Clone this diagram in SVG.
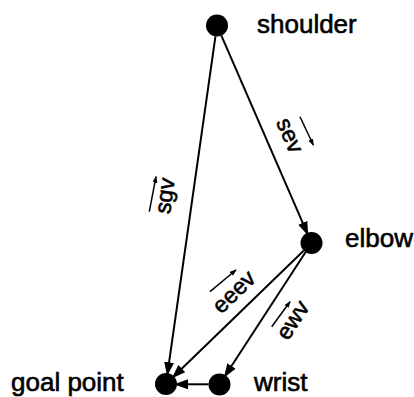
<svg xmlns="http://www.w3.org/2000/svg" width="414" height="397" viewBox="0 0 414 397">
<style>
.bg{fill:#fff}
.edge{stroke:#000;stroke-width:2;fill:none;marker-end:url(#ah)}
.vec{stroke:#000;stroke-width:1.5;fill:none;marker-end:url(#sah)}
.node{fill:#000}
.lbl{font-family:"Liberation Sans",Arial,Helvetica,sans-serif;font-size:26px;fill:#000;stroke:#000;stroke-width:0.6}
.elbl{font-family:"Liberation Sans",Arial,Helvetica,sans-serif;font-size:23px;fill:#000;stroke:#000;stroke-width:0.6;text-anchor:middle}
</style>
<defs>
<marker id="ah" markerUnits="userSpaceOnUse" markerWidth="15" markerHeight="11" refX="11" refY="5" orient="auto">
<path d="M0,0 L14,5 L0,10 z" fill="#000"/>
</marker>
<marker id="sah" markerUnits="userSpaceOnUse" markerWidth="8" markerHeight="6" refX="6" refY="2.5" orient="auto">
<path d="M0,0 L7,2.5 L0,5 z" fill="#000"/>
</marker>
</defs>
<rect class="bg" x="0" y="0" width="414" height="397"/>
<g id="connectors">
<line id="e-s-e" class="edge" x1="221.4" y1="35.6" x2="307.1" y2="232.9"/>
<line id="e-s-g" class="edge" x1="215.45" y1="36.4" x2="167.55" y2="373.1"/>
<line id="e-e-g" class="edge" x1="303.6" y1="250.7" x2="173.9" y2="376.3"/>
<line id="e-e-w" class="edge" x1="305.5" y1="252.2" x2="225.5" y2="375.3"/>
<line id="e-w-g" class="edge" x1="208.5" y1="384.3" x2="177" y2="384.3"/>
</g>
<g id="edge-labels">
<g id="lbl-sev">
<text class="elbl" transform="translate(288.5,136) rotate(66.5)" x="0" y="6">sev</text>
<line class="vec" x1="300" y1="116.7" x2="313.3" y2="145"/>
</g>
<g id="lbl-sgv">
<text class="elbl" transform="translate(166.5,196) rotate(-82)" x="0" y="6">sgv</text>
<line class="vec" x1="149.3" y1="211.7" x2="156" y2="176.7"/>
</g>
<g id="lbl-eeev">
<text class="elbl" transform="translate(235,293) rotate(-44)" x="0" y="6">eeev</text>
<line class="vec" x1="210" y1="291.7" x2="236" y2="270"/>
</g>
<g id="lbl-ewv">
<text class="elbl" transform="translate(294,321) rotate(-57)" x="0" y="6">ewv</text>
<line class="vec" x1="271.7" y1="326.7" x2="290" y2="301.7"/>
</g>
</g>
<g id="shoulder">
<circle class="node" cx="217" cy="25.5" r="11"/>
<text class="lbl" x="257" y="33">shoulder</text>
</g>
<g id="elbow">
<circle class="node" cx="311.5" cy="243" r="11"/>
<text class="lbl" x="345" y="247">elbow</text>
</g>
<g id="wrist">
<circle class="node" cx="219.5" cy="384.5" r="11"/>
<text class="lbl" x="254" y="391">wrist</text>
</g>
<g id="goal-point">
<circle class="node" cx="166" cy="384" r="11"/>
<text class="lbl" x="11" y="391">goal point</text>
</g>
</svg>
